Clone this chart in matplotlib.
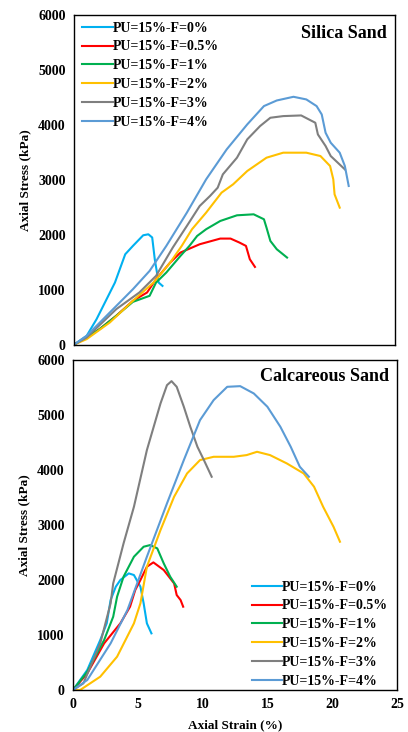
import numpy as np
import matplotlib
matplotlib.use("Agg")
import matplotlib.pyplot as plt

plt.rcParams['font.family'] = ['Liberation Serif', 'DejaVu Serif']
plt.rcParams['font.weight'] = 'bold'

labels = ['PU=15%-F=0%', 'PU=15%-F=0.5%', 'PU=15%-F=1%',
          'PU=15%-F=2%', 'PU=15%-F=3%', 'PU=15%-F=4%']
colors = ['#00B0F0', '#FF0000', '#00B050', '#FFC000', '#7F7F7F', '#5B9BD5']

# silica sand: strain (%) / stress (kPa)
silica_x = [
    [0, 1.0, 1.77, 3.2, 4.0, 4.6, 5.4, 5.8, 6.1, 6.3, 6.6, 6.9],
    [0, 1.0, 2.0, 3.3, 4.6, 5.7, 6.4, 7.5, 8.3, 9.8, 11.4, 12.2, 12.9, 13.4, 13.7, 14.1],
    [0, 1.0, 2.0, 3.3, 4.6, 5.9, 6.4, 7.2, 8.3, 9.0, 9.6, 10.3, 11.4, 12.7, 14.0, 14.8,
     15.0, 15.3, 15.8, 16.6],
    [0, 1.0, 2.8, 4.6, 6.2, 7.5, 8.4, 9.2, 10.3, 11.5, 12.4, 13.5, 15.0, 16.3, 18.1,
     19.2, 19.95, 20.2, 20.3, 20.7],
    [0, 1.0, 3.3, 5.1, 6.4, 7.7, 8.8, 9.8, 10.6, 11.2, 11.6, 12.7, 13.5, 14.5, 15.3,
     16.3, 17.7, 18.8, 19.0, 19.6, 20.0, 21.1],
    [0, 1.0, 2.8, 4.6, 5.9, 7.2, 8.8, 10.3, 11.9, 13.5, 14.8, 15.8, 17.1, 18.1, 18.9,
     19.3, 19.6, 20.0, 20.7, 21.1, 21.4],
]
silica_y = [
    [0, 163, 466, 1131, 1645, 1797, 1990, 2008, 1950, 1555, 1131, 1070],
    [0, 133, 284, 526, 799, 950, 1192, 1494, 1676, 1827, 1930, 1930, 1857, 1797, 1555, 1415],
    [0, 133, 284, 526, 780, 890, 1131, 1313, 1615, 1797, 1978, 2100, 2250, 2353, 2371, 2281,
     2129, 1887, 1736, 1585],
    [0, 103, 405, 799, 1131, 1494, 1797, 2100, 2402, 2765, 2916, 3158, 3400, 3491, 3491,
     3430, 3249, 3007, 2734, 2492],
    [0, 133, 647, 950, 1252, 1766, 2160, 2523, 2704, 2855, 3097, 3400, 3733, 3975, 4126,
     4156, 4168, 4035, 3823, 3612, 3430, 3188],
    [0, 163, 587, 1010, 1343, 1797, 2402, 3007, 3551, 4005, 4338, 4440, 4507, 4459, 4338,
     4186, 3853, 3672, 3491, 3249, 2886],
]

# calcareous sand
calc_x = [
    [0, 1.1, 2.1, 2.6, 2.9, 3.3, 3.65, 4.3, 4.7, 5.2, 5.45, 5.7, 6.05],
    [0, 1.1, 2.4, 3.65, 4.4, 4.8, 5.2, 5.7, 6.2, 7.0, 7.8, 8.0, 8.3, 8.5],
    [0, 1.1, 2.4, 3.1, 3.4, 3.9, 4.7, 5.45, 5.95, 6.5, 7.0, 7.5, 8.0],
    [0, 0.55, 2.1, 3.4, 4.7, 5.2, 5.7, 6.75, 7.8, 8.8, 9.8, 10.85, 12.4, 13.4, 14.2,
     15.2, 16.5, 17.8, 18.6, 19.3, 20.1, 20.6],
    [0, 0.8, 2.1, 2.9, 3.1, 3.9, 4.7, 5.7, 6.75, 7.25, 7.6, 8.0, 8.55, 9.05, 9.6,
     10.1, 10.7],
    [0, 1.1, 2.9, 4.2, 5.7, 7.25, 8.55, 9.8, 10.85, 11.9, 12.9, 13.95, 15.0, 16.0,
     16.8, 17.5, 18.2],
]
calc_y = [
    [0, 364, 909, 1212, 1636, 1879, 2000, 2121, 2091, 1879, 1576, 1212, 1030],
    [0, 303, 848, 1212, 1515, 1818, 2000, 2242, 2321, 2182, 1939, 1727, 1636, 1515],
    [0, 333, 909, 1333, 1697, 2061, 2424, 2606, 2636, 2576, 2303, 2061, 1879],
    [0, 0, 242, 606, 1212, 1576, 2242, 2909, 3515, 3939, 4182, 4242, 4242, 4273, 4333,
     4273, 4121, 3939, 3697, 3333, 2970, 2697],
    [0, 121, 848, 1576, 1939, 2667, 3333, 4364, 5212, 5545, 5618, 5515, 5152, 4788,
     4424, 4182, 3879],
    [0, 182, 848, 1455, 2424, 3394, 4182, 4909, 5273, 5515, 5527, 5394, 5152, 4788,
     4424, 4061, 3879],
]

fig = plt.figure(figsize=(4.08, 7.32), dpi=100)
ax1 = fig.add_axes([0.181, 0.529, 0.787, 0.451])
ax2 = fig.add_axes([0.179, 0.0574, 0.794, 0.4506])

for i in range(6):
    ax1.plot(silica_x[i], silica_y[i], color=colors[i], lw=1.5, label=labels[i])
    ax2.plot(calc_x[i], calc_y[i], color=colors[i], lw=1.5, label=labels[i])

for ax in (ax1, ax2):
    ax.set_xlim(0, 25)
    ax.set_ylim(0, 6000)
    ax.set_yticks(range(0, 6001, 1000))
    ax.set_ylabel('Axial Stress (kPa)', fontsize=9.5, fontweight='bold', labelpad=5)
    ax.tick_params(direction='in', length=0, labelsize=10, pad=6)
    for s in ax.spines.values():
        s.set_linewidth(1.0)
    for t in ax.get_yticklabels() + ax.get_xticklabels():
        t.set_fontweight('bold')

ax1.set_xticks([])
ax2.set_xticks(range(0, 26, 5))
ax2.set_xlabel('Axial Strain (%)', fontsize=9.5, fontweight='bold', labelpad=6)

ax1.text(0.975, 0.97, 'Silica Sand', transform=ax1.transAxes, ha='right', va='top',
         fontsize=13, fontweight='bold')
ax2.text(0.975, 0.975, 'Calcareous Sand', transform=ax2.transAxes, ha='right', va='top',
         fontsize=13, fontweight='bold')

leg_kw = dict(frameon=False, handlelength=2.2, handletextpad=0.0,
              labelspacing=0.42, prop={'weight': 'bold', 'size': 10})
ax1.legend(loc='upper left', bbox_to_anchor=(0.005, 1.0), borderaxespad=0.1, **leg_kw)
ax2.legend(loc='lower right', bbox_to_anchor=(0.99, -0.01), borderaxespad=0.0, **leg_kw)

fig.savefig('out.png', dpi=100)
